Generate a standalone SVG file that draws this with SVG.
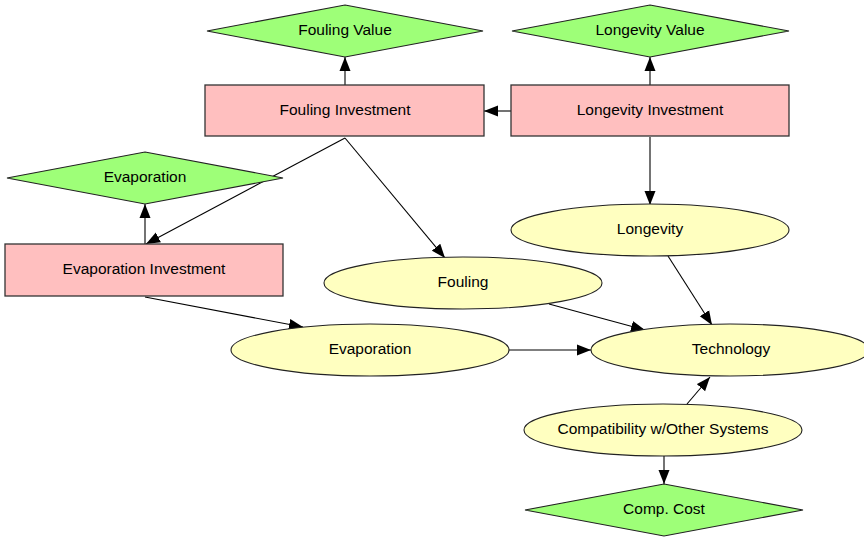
<svg xmlns="http://www.w3.org/2000/svg" width="864" height="537" viewBox="0 0 864 537">
  <defs>
    <marker id="arrow" viewBox="0 0 14 12" refX="14" refY="6" markerWidth="14" markerHeight="12" markerUnits="userSpaceOnUse" orient="auto">
      <path d="M0,0.5 L14,6 L0,11.5 Z" fill="#000"/>
    </marker>
    <style>
      .box { fill: #ffbfbf; stroke: #333; stroke-width: 1.3; }
      .dia { fill: #9eff78; stroke: #222; stroke-width: 1.1; }
      .ell { fill: #ffffc0; stroke: #222; stroke-width: 1.1; }
      .lbl { font-family: "Liberation Sans", Arial, sans-serif; font-size: 15.5px; fill: #000; text-anchor: middle; }
      .edge { stroke: #000; stroke-width: 1.1; fill: none; marker-end: url(#arrow); }
    </style>
  </defs>
  <rect width="864" height="537" fill="#fff"/>

  <!-- connectors -->
  <g id="edges">
    <line class="edge" x1="345" y1="85" x2="345" y2="57"/>
    <line class="edge" x1="650" y1="85" x2="650" y2="57"/>
    <line class="edge" x1="511" y1="111" x2="484" y2="111"/>
    <line class="edge" x1="650" y1="137" x2="650" y2="205"/>
    <line class="edge" x1="345" y1="138" x2="146" y2="244"/>
    <line class="edge" x1="345" y1="138" x2="445" y2="258"/>
    <line class="edge" x1="145" y1="244" x2="145" y2="204"/>
    <line class="edge" x1="145" y1="297" x2="303" y2="327"/>
    <line class="edge" x1="549" y1="304" x2="645" y2="330"/>
    <line class="edge" x1="668" y1="256" x2="712" y2="325"/>
    <line class="edge" x1="509" y1="350" x2="591" y2="350"/>
    <line class="edge" x1="687" y1="404" x2="710" y2="377"/>
    <line class="edge" x1="664" y1="456" x2="664" y2="484"/>
  </g>

  <g id="fouling-value">
    <polygon class="dia" points="345,5 483,31 345,57 207,31"/>
    <text class="lbl" x="345" y="35">Fouling Value</text>
  </g>
  <g id="longevity-value">
    <polygon class="dia" points="650,5 789,31 650,57 512,31"/>
    <text class="lbl" x="650" y="35">Longevity Value</text>
  </g>
  <g id="fouling-investment">
    <rect class="box" x="205" y="85" width="279" height="51"/>
    <text class="lbl" x="345" y="114.5">Fouling Investment</text>
  </g>
  <g id="longevity-investment">
    <rect class="box" x="511" y="85" width="278" height="51"/>
    <text class="lbl" x="650" y="114.5">Longevity Investment</text>
  </g>
  <g id="evaporation-value">
    <polygon class="dia" points="145,152 283,178 145,204 7,178"/>
    <text class="lbl" x="145" y="182">Evaporation</text>
  </g>
  <g id="evaporation-investment">
    <rect class="box" x="5" y="244" width="278" height="52"/>
    <text class="lbl" x="144" y="274">Evaporation Investment</text>
  </g>
  <g id="longevity">
    <ellipse class="ell" cx="650" cy="230" rx="139" ry="26"/>
    <text class="lbl" x="650" y="234">Longevity</text>
  </g>
  <g id="fouling">
    <ellipse class="ell" cx="463" cy="283" rx="139" ry="26"/>
    <text class="lbl" x="463" y="287">Fouling</text>
  </g>
  <g id="evaporation">
    <ellipse class="ell" cx="370" cy="350" rx="139" ry="26"/>
    <text class="lbl" x="370" y="354">Evaporation</text>
  </g>
  <g id="technology">
    <ellipse class="ell" cx="730" cy="350" rx="139" ry="26"/>
    <text class="lbl" x="731" y="354">Technology</text>
  </g>
  <g id="compatibility">
    <ellipse class="ell" cx="663" cy="430" rx="139" ry="26"/>
    <text class="lbl" x="663" y="434">Compatibility w/Other Systems</text>
  </g>
  <g id="comp-cost">
    <polygon class="dia" points="664,484 803,510 664,536 525,510"/>
    <text class="lbl" x="664" y="514">Comp. Cost</text>
  </g>
</svg>
